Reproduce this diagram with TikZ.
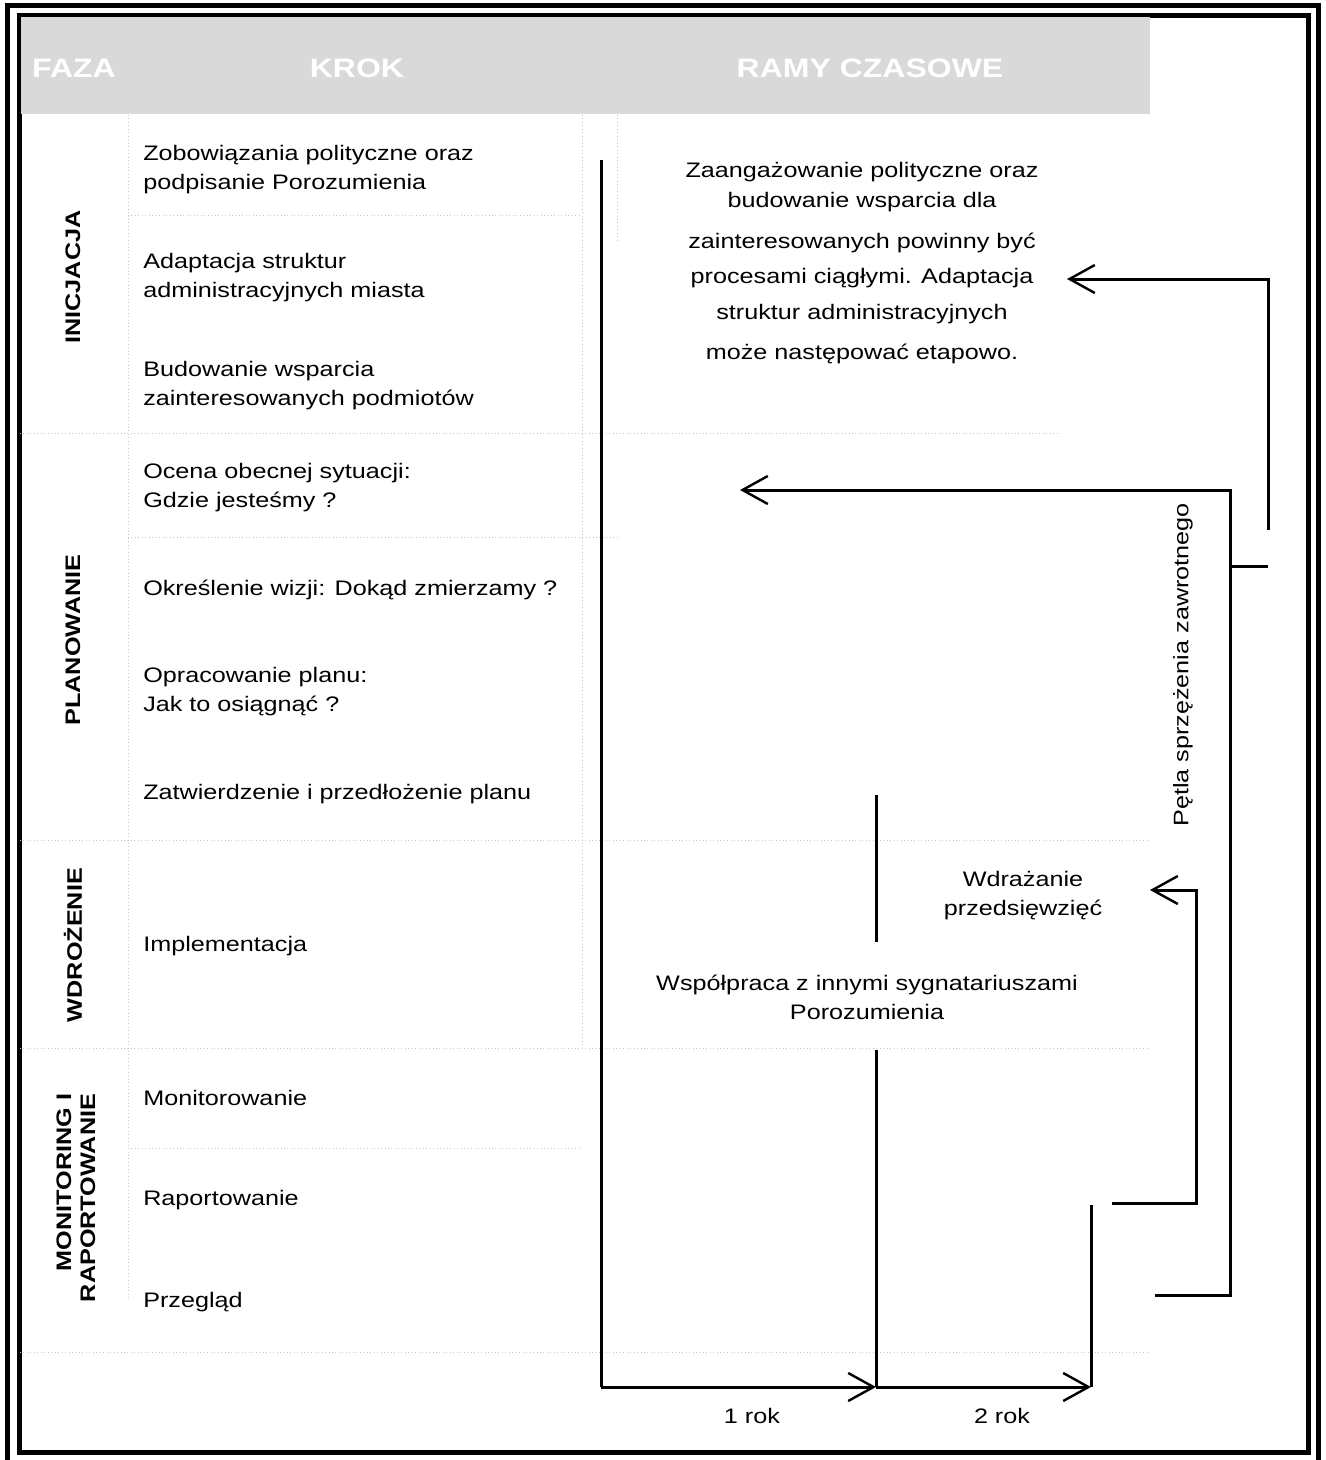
\documentclass[tikz,border=0pt]{standalone}
\usepackage{fontspec}
\setmainfont{Liberation Sans}[FakeStretch=1.2]
\usetikzlibrary{arrows.meta}
\begin{document}
\begin{tikzpicture}[x=0.75pt,y=-0.75pt,
  txt/.style={font=\fontsize{15.75pt}{21.75pt}\selectfont, inner sep=0pt},
  steptxt/.style={txt, anchor=west, align=left},
  phase/.style={font=\fontsize{15.75pt}{18pt}\selectfont\bfseries, rotate=90, inner sep=0pt},
  hdr/.style={font=\fontsize{20pt}{24pt}\selectfont\bfseries, text=white, inner sep=0pt},
  ln/.style={line width=2.25pt},
  arr/.style={ln, -{Straight Barb[length=19pt,width=21pt,line width=1.8pt]}},
  frame/.style={line width=3.75pt},
  gridln/.style={gray!45, dotted, line width=0.6pt}]

\useasboundingbox (0,0) rectangle (1326,1460);

% frame
\draw[frame] (7,1475) -- (7,5) -- (1318,5) -- (1318,1475);
\draw[frame] (19,15) rectangle (1308,1452);

% header
\fill[gray!30] (21,17) rectangle (1150,114);
\node[hdr] (hfaza) at (74,68) {FAZA};
\node[hdr] (hkrok) at (357,68) {KROK};
\node[hdr] (hramy) at (870,68) {RAMY CZASOWE};

% faint table lines
\draw[gridln] (128,115) -- (128,1300);
\draw[gridln] (582,115) -- (582,1050);
\draw[gridln] (617,115) -- (617,240);
\draw[gridln] (128,215) -- (582,215);
\draw[gridln] (20,433) -- (1060,433);
\draw[gridln] (128,537) -- (620,537);
\draw[gridln] (20,840) -- (1150,840);
\draw[gridln] (20,1048) -- (1150,1048);
\draw[gridln] (128,1148) -- (582,1148);
\draw[gridln] (20,1352) -- (1150,1352);

% phases
\node[phase] (pinic) at (73,277) {INICJACJA};
\node[phase] (pplan) at (73,640) {PLANOWANIE};
\node[phase] (pwdro) at (73,945) {WDROŻENIE};
\node[phase, align=right] (pmon) at (76,1198) {MONITORING I\\RAPORTOWANIE};

% steps
\node[steptxt] (s1) at (143,170) {Zobowiązania polityczne oraz\\podpisanie Porozumienia};
\node[steptxt] (s2) at (143,278) {Adaptacja struktur\\administracyjnych miasta};
\node[steptxt] (s3) at (143,386) {Budowanie wsparcia\\zainteresowanych podmiotów};
\node[steptxt] (s4) at (143,488) {Ocena obecnej sytuacji:\\Gdzie jesteśmy ?};
\node[steptxt] (s5) at (143,590) {Określenie wizji: Dokąd zmierzamy ?};
\node[steptxt] (s6) at (143,692) {Opracowanie planu:\\Jak to osiągnąć ?};
\node[steptxt] (s7) at (143,794) {Zatwierdzenie i przedłożenie planu};
\node[steptxt] (s8) at (143,946) {Implementacja};
\node[steptxt] (s9) at (143,1098) {Monitorowanie};
\node[steptxt] (s10) at (143,1200) {Raportowanie};
\node[steptxt] (s11) at (143,1302) {Przegląd};

% time frame texts
\node[txt, align=center, font=\fontsize{15.75pt}{22.5pt}\selectfont] (note) at (862,263)
  {Zaangażowanie polityczne oraz\\budowanie wsparcia dla\\[8.25pt]zainteresowanych powinny być\\[3.75pt]procesami ciągłymi. Adaptacja\\[4.5pt]struktur administracyjnych\\[7.5pt]może następować etapowo.};
\node[txt, align=center] (wdr) at (1023,896) {Wdrażanie\\przedsięwzięć};
\node[txt, align=center] (wsp) at (867,997) {Współpraca z innymi sygnatariuszami\\Porozumienia};
\node[txt, rotate=90] (petla) at (1183,665) {Pętla sprzężenia zawrotnego};
\node[txt] (rok1) at (752,1416) {1 rok};
\node[txt] (rok2) at (1002,1416) {2 rok};

% timeline
\coordinate (t0top) at (601,160);
\coordinate (t0) at (601,1387);
\coordinate (t1) at (876,1387);
\coordinate (t1a) at (876,795);
\coordinate (t1b) at (876,942);
\coordinate (t1c) at (876,1050);
\coordinate (t2) at (1091,1387);
\coordinate (t2top) at (1091,1205);
\draw[ln] (t0top) -- (t0);
\draw[arr] (t0) -- (t1);
\draw[arr] (t1) -- (t2);
\draw[ln] (t1a) -- (t1b);
\draw[ln] (t1c) -- (t1);
\draw[ln] (t2top) -- (t2);

% feedback arrows
\coordinate (f1s) at (1268,530);
\coordinate (f1c) at (1268,279);
\coordinate (f1e) at (1067,279);
\draw[arr] (f1s) -- (f1c) -- (f1e);

\coordinate (f2s) at (1155,1295);
\coordinate (f2b) at (1230,1295);
\coordinate (f2c) at (1230,490);
\coordinate (f2e) at (740,490);
\draw[arr] (f2s) -- (f2b) -- (f2c) -- (f2e);
\coordinate (stubL) at (1230,566);
\coordinate (stubR) at (1268,566);
\draw[ln] (stubL) -- (stubR);

\coordinate (f3s) at (1112,1203);
\coordinate (f3b) at (1196,1203);
\coordinate (f3c) at (1196,890);
\coordinate (f3e) at (1150,890);
\draw[arr] (f3s) -- (f3b) -- (f3c) -- (f3e);
\end{tikzpicture}
\end{document}
